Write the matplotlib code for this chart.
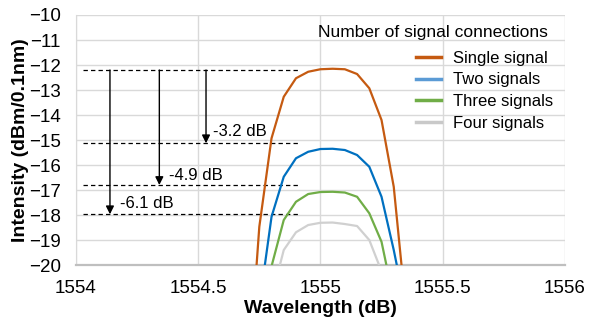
import matplotlib.pyplot as plt
from matplotlib.lines import Line2D

plt.rcParams['font.family'] = ['Liberation Sans', 'DejaVu Sans']

# spectra (values below -20 are clipped by the axis)
wl_single = [1554.70, 1554.75, 1554.80, 1554.85, 1554.90, 1554.95, 1555.00, 1555.05, 1555.10, 1555.15, 1555.20, 1555.25, 1555.30, 1555.35]
single = [-25.3, -18.47, -14.93, -13.27, -12.53, -12.27, -12.17, -12.15, -12.17, -12.36, -12.93, -14.2, -16.87, -21.8]

wl_two = [1554.75, 1554.80, 1554.85, 1554.90, 1554.95, 1555.00, 1555.05, 1555.10, 1555.15, 1555.20, 1555.25, 1555.30, 1555.35]
two = [-21.6, -18.07, -16.47, -15.73, -15.47, -15.36, -15.35, -15.4, -15.6, -16.07, -17.27, -19.4, -21.8]

wl_three = [1554.80, 1554.85, 1554.90, 1554.95, 1555.00, 1555.05, 1555.10, 1555.15, 1555.20, 1555.25, 1555.30]
three = [-20.05, -18.2, -17.47, -17.16, -17.08, -17.07, -17.1, -17.27, -17.93, -19.07, -21.4]

wl_four = [1554.80, 1554.85, 1554.90, 1554.95, 1555.00, 1555.05, 1555.10, 1555.15, 1555.20, 1555.25]
four = [-21.3, -19.4, -18.69, -18.4, -18.31, -18.3, -18.36, -18.44, -19.0, -20.25]

series_names = ['Single signal', 'Two signals', 'Three signals', 'Four signals']
legend_title = 'Number of signal connections'

# annotation levels and drops
ref_level = -12.2
drop_levels = [-15.13, -16.8, -17.97]
arrow_x = [1554.532, 1554.341, 1554.139]
drop_labels = ['-3.2 dB', '-4.9 dB', '-6.1 dB']
label_x = [1554.56, 1554.38, 1554.18]
label_y = [-14.67, -16.4, -17.53]

fig = plt.figure(figsize=(5.89, 3.26), dpi=100)
ax = fig.add_axes([0.129, 0.187, 0.83, 0.767])

grid_c = '#D9D9D9'
ax.plot(wl_single, single, color='#C55A11', lw=1.6, zorder=3)
ax.plot(wl_two, two, color='#0070C0', lw=1.6, zorder=3)
ax.plot(wl_three, three, color='#70AD47', lw=1.6, zorder=3)
ax.plot(wl_four, four, color='#D0D0D0', lw=1.6, zorder=3)

# dashed reference lines
for lv in [ref_level] + drop_levels:
    ax.plot([1554.03, 1554.915], [lv, lv], color='black', lw=0.9, ls=(0, (3.5, 2.5)), zorder=2)

# arrows + labels
for x, lv, txt, tx, ty in zip(arrow_x, drop_levels, drop_labels, label_x, label_y):
    ax.annotate('', xy=(x, lv), xytext=(x, ref_level),
                arrowprops=dict(arrowstyle='-|>', color='black', lw=1.0,
                                mutation_scale=12, shrinkA=0, shrinkB=0), zorder=4)
    ax.text(tx, ty, txt, fontsize=12, va='center', ha='left', zorder=4)

ax.set_xlim(1554, 1556)
ax.set_ylim(-20, -10)
ax.set_xticks([1554, 1554.5, 1555, 1555.5, 1556])
ax.set_xticklabels(['1554', '1554.5', '1555', '1555.5', '1556'])
ax.set_yticks(range(-20, -9))
ax.tick_params(labelsize=13.5, length=0)
ax.tick_params(axis='x', pad=11)
ax.tick_params(axis='y', pad=11)
ax.grid(True, color=grid_c, lw=1.0, zorder=0)
ax.set_axisbelow(True)
for s in ['top', 'right']:
    ax.spines[s].set_visible(False)
ax.spines['left'].set_color(grid_c)
ax.spines['bottom'].set_color('#BFBFBF')
ax.spines['bottom'].set_linewidth(1.6)

ax.set_xlabel('Wavelength (dB)', fontsize=14, fontweight='bold', labelpad=2)
ax.set_ylabel('Intensity (dBm/0.1nm)', fontsize=14, fontweight='bold', labelpad=0)

# legend title as its own text, entries sit a little further right (Excel style)
ax.text(0.965, 0.928, legend_title, transform=ax.transAxes, fontsize=12.5,
        ha='right', va='center', zorder=5)
handles = [Line2D([], [], color=c, lw=2.5) for c in ['#C55A11', '#5B9BD5', '#70AD47', '#C9C9C9']]
leg = ax.legend(handles, series_names, loc='upper right', bbox_to_anchor=(0.99, 0.884),
                frameon=False, fontsize=12, handlelength=1.5, handletextpad=0.75,
                labelspacing=0.4, borderaxespad=0)

plt.savefig('out.png', dpi=100)
